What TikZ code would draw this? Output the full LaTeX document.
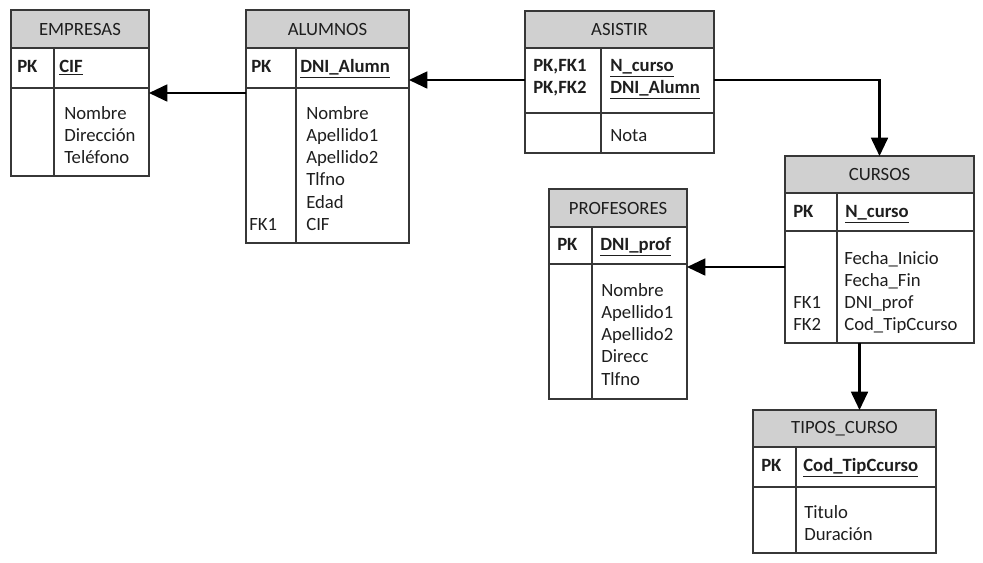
\documentclass[tikz,border=0pt]{standalone}
\usepackage{fontspec}
\setmainfont{Carlito}
\usetikzlibrary{arrows.meta}
\definecolor{gris}{RGB}{208,208,208}
\definecolor{borde}{RGB}{55,55,55}
\definecolor{texto}{RGB}{30,30,30}
\newlength{\pxu}
\setlength{\pxu}{0.025cm}
\newcommand{\tamano}{\fontsize{13.3}{15.8}\selectfont}
\begin{document}
\begin{tikzpicture}[x=0.025cm,y=-0.025cm,
  caja/.style={draw=borde,line width=1.5pt,anchor=north west,inner sep=0pt,outer sep=0pt},
  cabecera/.style={caja,fill=gris,minimum height=38\pxu,text=texto,font=\tamano},
  linea/.style={draw=borde,line width=1.5pt},
  clave/.style={anchor=west,inner sep=0pt,align=left,text=texto,font=\tamano\bfseries,
    execute at begin node=\strut,execute at end node=\strut},
  campo/.style={anchor=north west,inner sep=0pt,align=left,text=texto,font=\tamano,
    execute at begin node=\strut,execute at end node=\strut},
  flecha/.style={draw=black,line width=1.5pt,-{Triangle[length=13pt,width=12pt]}}
]
  \useasboundingbox (0,0) rectangle (983,562);

  % EMPRESAS
  \node[caja,minimum width=138\pxu,minimum height=166\pxu] (empresas) at (11,10) {};
  \node[cabecera,minimum width=138\pxu] (empresas-h) at (11,10) {EMPRESAS};
  \node[caja,minimum width=138\pxu,minimum height=40\pxu] (empresas-pk) at (empresas-h.south west) {};
  \draw[linea] ([xshift=43\pxu]empresas-pk.north west) -- ([xshift=43\pxu]empresas.south west);
  \node[clave] (empresas-k) at (17,68) {PK};
  \node[clave] (empresas-cif) at (59,68) {\underline{CIF}};
  \node[campo] (empresas-at) at (64,106) {Nombre\\Dirección\\Teléfono};

  % ALUMNOS
  \node[caja,minimum width=163\pxu,minimum height=233\pxu] (alumnos) at (246,10) {};
  \node[cabecera,minimum width=163\pxu] (alumnos-h) at (246,10) {ALUMNOS};
  \node[caja,minimum width=163\pxu,minimum height=40\pxu] (alumnos-pk) at (alumnos-h.south west) {};
  \draw[linea] ([xshift=50\pxu]alumnos-pk.north west) -- ([xshift=50\pxu]alumnos.south west);
  \node[clave] (alumnos-k) at (251,68) {PK};
  \node[clave] (alumnos-dni) at (300,68) {\underline{DNI\_Alumn}};
  \node[campo] (alumnos-at) at (306,106) {Nombre\\Apellido1\\Apellido2\\Tlfno\\Edad\\CIF};
  \node[campo,anchor=west] (alumnos-fk1) at (249,226) {FK1};

  % ASISTIR
  \node[caja,minimum width=189\pxu,minimum height=142\pxu] (asistir) at (525,11) {};
  \node[cabecera,minimum width=189\pxu,minimum height=37\pxu] (asistir-h) at (525,11) {ASISTIR};
  \node[caja,minimum width=189\pxu,minimum height=65\pxu] (asistir-pk) at (asistir-h.south west) {};
  \draw[linea] ([xshift=76\pxu]asistir-pk.north west) -- ([xshift=76\pxu]asistir.south west);
  \node[clave] (asistir-k) at (533,80) {PK,FK1\\PK,FK2};
  \node[clave] (asistir-id) at (610,80) {\underline{N\_curso}\\\underline{DNI\_Alumn}};
  \node[campo,anchor=west] (asistir-nota) at (610,137) {Nota};

  % CURSOS
  \node[caja,minimum width=189\pxu,minimum height=187\pxu] (cursos) at (785,156) {};
  \node[cabecera,minimum width=189\pxu,minimum height=37\pxu] (cursos-h) at (785,156) {CURSOS};
  \node[caja,minimum width=189\pxu,minimum height=38\pxu] (cursos-pk) at (cursos-h.south west) {};
  \draw[linea] ([xshift=52\pxu]cursos-pk.north west) -- ([xshift=52\pxu]cursos.south west);
  \node[clave] (cursos-k) at (793,213) {PK};
  \node[clave] (cursos-n) at (845,213) {\underline{N\_curso}};
  \node[campo] (cursos-at) at (844,251) {Fecha\_Inicio\\Fecha\_Fin\\DNI\_prof\\Cod\_TipCcurso};
  \node[campo,anchor=west] (cursos-fk1) at (793,304) {FK1};
  \node[campo,anchor=west] (cursos-fk2) at (793,326) {FK2};

  % PROFESORES
  \node[caja,minimum width=138\pxu,minimum height=210\pxu] (profesores) at (549,189) {};
  \node[cabecera,minimum width=138\pxu] (profesores-h) at (549,189) {PROFESORES};
  \node[caja,minimum width=138\pxu,minimum height=37\pxu] (profesores-pk) at (profesores-h.south west) {};
  \draw[linea] ([xshift=43\pxu]profesores-pk.north west) -- ([xshift=43\pxu]profesores.south west);
  \node[clave] (profesores-k) at (557,246) {PK};
  \node[clave] (profesores-dni) at (600,246) {\underline{DNI\_prof}};
  \node[campo] (profesores-at) at (601,283) {Nombre\\Apellido1\\Apellido2\\Direcc\\Tlfno};

  % TIPOS_CURSO
  \node[caja,minimum width=183\pxu,minimum height=143\pxu] (tipos) at (753,410) {};
  \node[cabecera,minimum width=183\pxu,minimum height=37\pxu] (tipos-h) at (753,410) {TIPOS\_CURSO};
  \node[caja,minimum width=183\pxu,minimum height=40\pxu] (tipos-pk) at (tipos-h.south west) {};
  \draw[linea] ([xshift=43\pxu]tipos-pk.north west) -- ([xshift=43\pxu]tipos.south west);
  \node[clave] (tipos-k) at (761,467) {PK};
  \node[clave] (tipos-cod) at (803,467) {\underline{Cod\_TipCcurso}};
  \node[campo] (tipos-at) at (804,505) {Titulo\\Duración};

  % relaciones
  \draw[flecha] ([yshift=-5\pxu]alumnos-pk.south west) -- ([yshift=-5\pxu]empresas-pk.south east);
  \draw[flecha] (asistir-k.west -| asistir.west) -- (asistir-k.west -| alumnos.east);
  \draw[flecha] (asistir-k.west -| asistir.east) -| (cursos.north);
  \coordinate (cp) at ([yshift=-3\pxu]profesores-pk.south east);
  \draw[flecha] (cursos.west |- cp) -- (cp);
  \coordinate (ct) at ([xshift=-20\pxu]cursos.south);
  \draw[flecha] (ct) -- (ct |- tipos.north);
\end{tikzpicture}
\end{document}
